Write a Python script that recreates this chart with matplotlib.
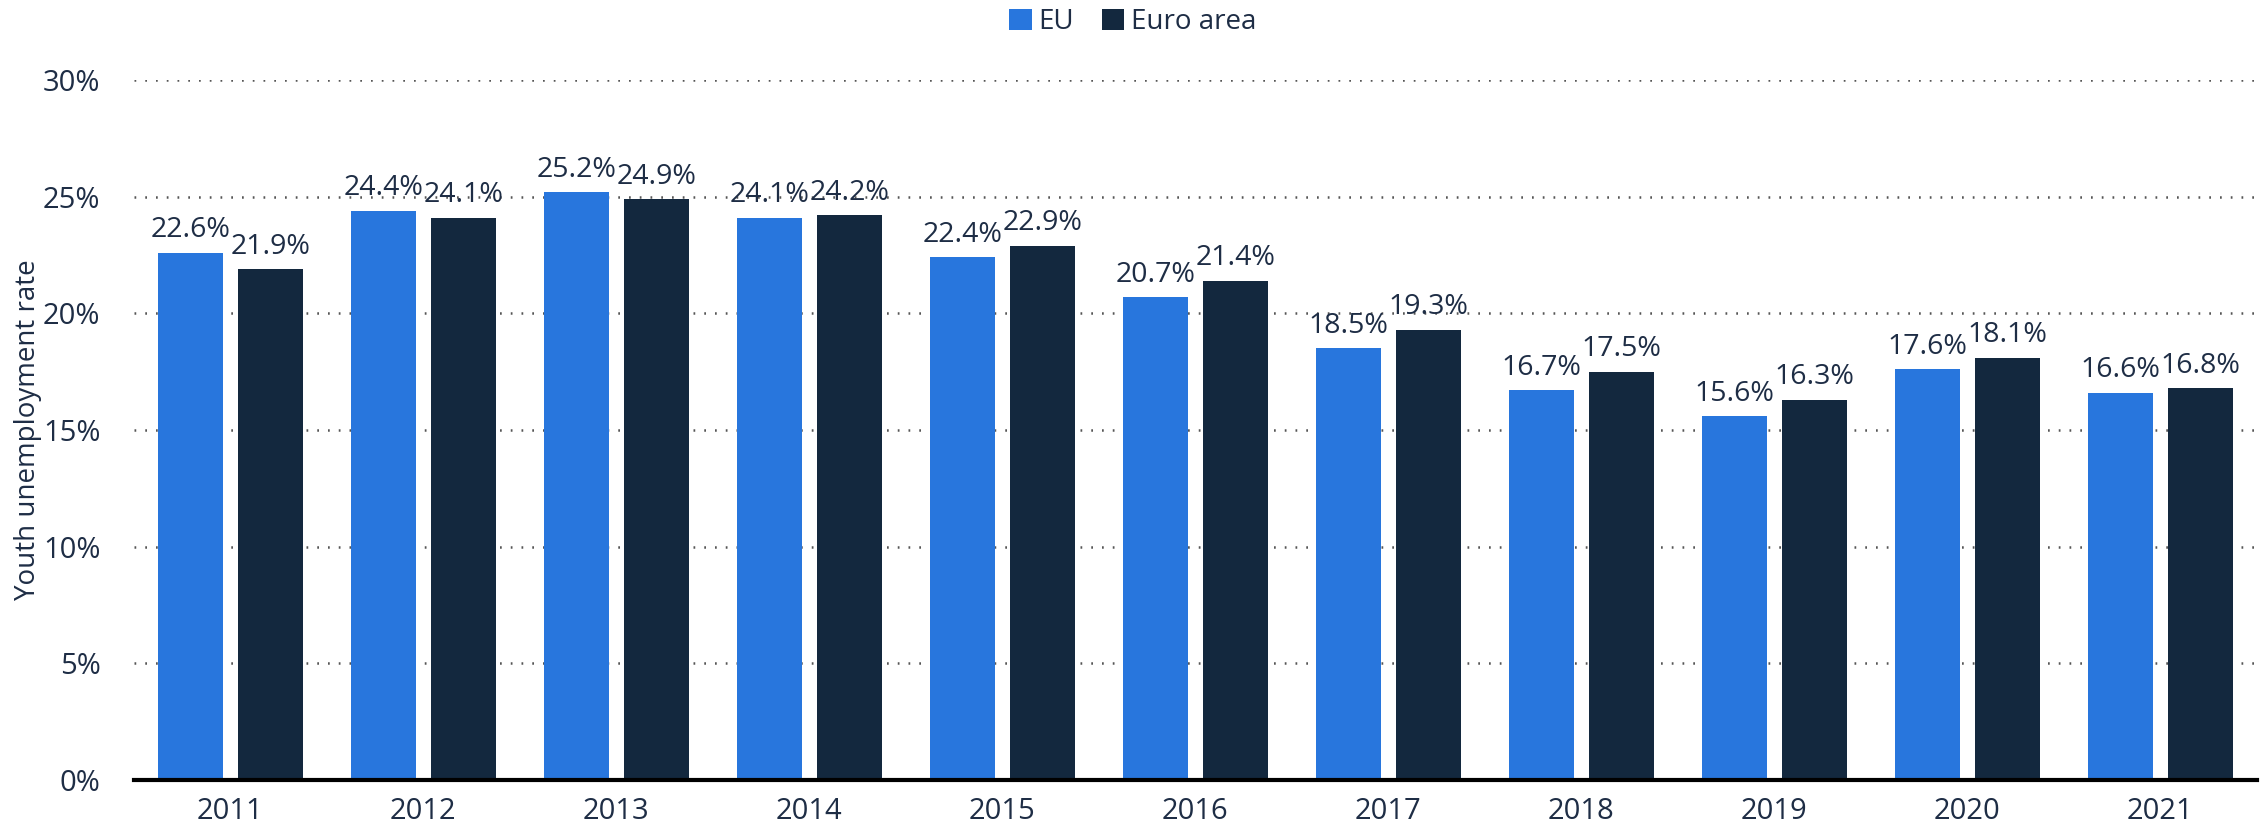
import matplotlib.pyplot as plt
import numpy as np

years = ["2011", "2012", "2013", "2014", "2015", "2016", "2017", "2018", "2019", "2020", "2021"]
eu = [22.6, 24.4, 25.2, 24.1, 22.4, 20.7, 18.5, 16.7, 15.6, 17.6, 16.6]
euro_area = [21.9, 24.1, 24.9, 24.2, 22.9, 21.4, 19.3, 17.5, 16.3, 18.1, 16.8]
yticks = [0, 5, 10, 15, 20, 25, 30]

blue = "#2876dd"
navy = "#13283e"
txt = "#1e2d45"

plt.rcParams["font.family"] = ["Open Sans", "DejaVu Sans"]

fig = plt.figure(figsize=(22.66, 8.33), dpi=100)
ax = fig.add_axes([0.0591, 0.0636, 0.9369, 0.8404])

x = np.arange(len(years))
w = 0.335
off = 0.207
b1 = ax.bar(x - off, eu, w, color=blue, label="EU", zorder=3)
b2 = ax.bar(x + off, euro_area, w, color=navy, label="Euro area", zorder=3)

for bars, vals in ((b1, eu), (b2, euro_area)):
    for r, v in zip(bars, vals):
        ax.annotate(f"{v}%", (r.get_x() + r.get_width() / 2, v),
                    xytext=(0, 6), textcoords="offset points",
                    ha="center", va="bottom", fontsize=20.5, color=txt, zorder=4)

ax.set_xlim(-0.5, len(years) - 0.5)
ax.set_ylim(0, 30)
ax.set_yticks(yticks)
ax.set_yticklabels([f"{t}%" for t in yticks])
ax.set_xticks(x)
ax.set_xticklabels(years)
ax.tick_params(axis="both", length=0, labelsize=21, labelcolor=txt)
ax.tick_params(axis="y", pad=24)
ax.tick_params(axis="x", pad=12)

ax.grid(axis="y", color="#555555", linestyle=(0, (0.7, 3.6)), linewidth=1.8, zorder=0)
for s in ["top", "right", "left"]:
    ax.spines[s].set_visible(False)
ax.spines["bottom"].set_linewidth(3)
ax.spines["bottom"].set_color("black")
ax.spines["bottom"].set_zorder(5)

ax.set_ylabel("Youth unemployment rate", fontsize=20, color=txt)
ax.yaxis.set_label_coords(-0.0435, 0.5)

fig.legend(handles=[b1, b2], loc="upper center", bbox_to_anchor=(0.5, 1.02), ncol=2,
           frameon=False, fontsize=20, labelcolor=txt, handlelength=0.8,
           handleheight=0.8, handletextpad=0.25, columnspacing=1.0)

fig.savefig("out.png", dpi=100)
